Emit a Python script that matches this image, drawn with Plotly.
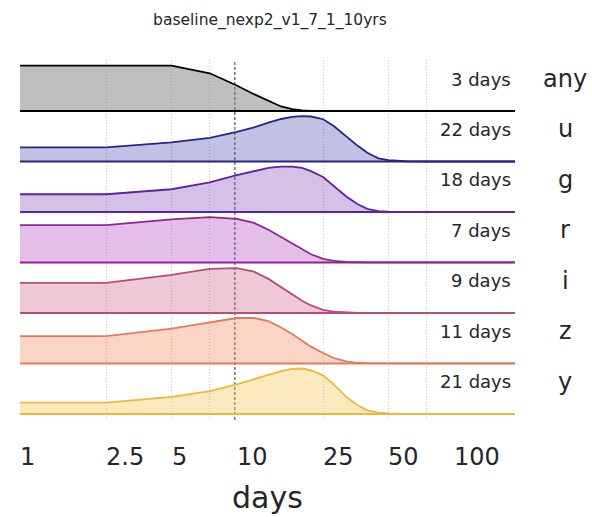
import numpy as np
import plotly.graph_objects as go

# Time between visits (days) at which each normalised distribution is sampled
days = [1, 2.5, 5, 7.5, 10, 12, 14, 16, 18, 20, 22, 25, 28, 32, 36, 40, 45, 50, 60, 75, 100, 192]

bands = ["any", "u", "g", "r", "i", "z", "y"]
medians = ["3 days", "22 days", "18 days", "7 days", "9 days", "11 days", "21 days"]

frac_any = [1.0, 1.0, 1.0, 0.83, 0.56, 0.37, 0.22, 0.10, 0.04, 0.012, 0.004, 0, 0, 0, 0, 0, 0, 0, 0, 0, 0, 0]
frac_u = [0.31, 0.31, 0.42, 0.52, 0.65, 0.75, 0.855, 0.935, 0.98, 1.0, 0.99, 0.93, 0.78, 0.55, 0.35, 0.19, 0.07, 0.03, 0.005, 0, 0, 0]
frac_g = [0.39, 0.39, 0.50, 0.65, 0.81, 0.905, 0.97, 1.0, 1.0, 0.97, 0.90, 0.77, 0.58, 0.34, 0.175, 0.07, 0.02, 0.005, 0, 0, 0, 0]
frac_r = [0.82, 0.82, 0.95, 1.0, 0.96, 0.87, 0.72, 0.565, 0.42, 0.29, 0.18, 0.08, 0.036, 0.01, 0, 0, 0, 0, 0, 0, 0, 0]
frac_i = [0.66, 0.66, 0.84, 0.97, 0.985, 0.91, 0.75, 0.57, 0.41, 0.27, 0.165, 0.07, 0.03, 0.01, 0, 0, 0, 0, 0, 0, 0, 0]
frac_z = [0.60, 0.60, 0.765, 0.91, 1.0, 1.0, 0.93, 0.79, 0.65, 0.50, 0.37, 0.23, 0.12, 0.045, 0.015, 0.005, 0, 0, 0, 0, 0, 0]
frac_y = [0.25, 0.25, 0.375, 0.50, 0.65, 0.765, 0.87, 0.94, 0.99, 1.0, 0.96, 0.85, 0.65, 0.375, 0.19, 0.08, 0.03, 0.01, 0, 0, 0, 0]
fractions = [frac_any, frac_u, frac_g, frac_r, frac_i, frac_z, frac_y]

line_colors = ["#000000", "#282387", "#5f239b", "#912396", "#b94b7d", "#e17d5f", "#ebb93c"]
fill_colors = ["rgba(128,128,128,0.5)", "rgba(78,78,178,0.35)", "rgba(135,75,189,0.35)",
               "rgba(178,69,189,0.35)", "rgba(206,98,138,0.35)", "rgba(241,132,86,0.35)",
               "rgba(249,192,69,0.35)"]

tick_vals = [1, 2.5, 5, 10, 25, 50, 100]
tick_text = ["1", "2.5", "5", "10", "25", "50", "100"]
grid_vals = [2.5, 5, 7.5, 25, 50, 75]
marker_day = 9.8

x_min, x_max = 1, 192
ridge_height = 0.9
text_color = "#262626"
font = "DejaVu Sans"

fig = go.Figure()
n = len(bands)
for k, (band, frac) in enumerate(zip(bands, fractions)):
    offset = n - 1 - k
    fig.add_trace(go.Scatter(
        x=[x_min, x_max], y=[offset, offset], mode="lines",
        line=dict(color=line_colors[k], width=2), hoverinfo="skip", showlegend=False))
    fig.add_trace(go.Scatter(
        x=days, y=[offset + ridge_height * v for v in frac], mode="lines",
        line=dict(color=line_colors[k], width=1.8),
        fill="tonexty", fillcolor=fill_colors[k], name=band, showlegend=False))
    fig.add_annotation(x=1, xref="paper", y=offset, yref="y", yshift=32,
                       xanchor="right", yanchor="middle", xshift=-2,
                       text=medians[k], showarrow=False,
                       font=dict(family=font, size=18, color=text_color))
    fig.add_annotation(x=1, xref="paper", y=offset, yref="y", yshift=32,
                       xanchor="center", yanchor="middle", xshift=50,
                       text=band, showarrow=False,
                       font=dict(family=font, size=24, color=text_color))

# Tick labels sit just right of their tick positions
for v, t in zip(tick_vals, tick_text):
    fig.add_annotation(x=np.log10(v), xref="x", y=0, yref="paper", yshift=-37,
                       xanchor="left", yanchor="middle", xshift=-2, text=t,
                       showarrow=False, font=dict(family=font, size=24, color=text_color))

fig.add_annotation(x=0.5, xref="paper", y=0, yref="paper", yshift=-77,
                   xanchor="center", yanchor="middle", text="days", showarrow=False,
                   font=dict(family=font, size=30, color=text_color))

fig.add_shape(type="line", x0=marker_day, x1=marker_day, xref="x", y0=0, y1=1,
              yref="paper", line=dict(color="#333333", width=1, dash="3px,2px"), layer="below")

fig.update_layout(
    width=592, height=517,
    margin=dict(l=20, r=77, t=60, b=97),
    paper_bgcolor="white", plot_bgcolor="white",
    title=dict(text="baseline_nexp2_v1_7_1_10yrs", x=0.456, xanchor="center",
               y=1 - 20 / 517, yanchor="middle",
               font=dict(family=font, size=15.5, color=text_color)),
    xaxis=dict(type="log", range=[np.log10(x_min), np.log10(x_max)],
               tickvals=grid_vals, showticklabels=False, ticks="",
               showgrid=True, gridcolor="#c4c4c4", gridwidth=1, griddash="1px,2px",
               zeroline=False, showline=False),
    yaxis=dict(range=[-0.12, 7.01], showgrid=False, showticklabels=False,
               zeroline=False, showline=False, ticks=""),
)

fig.write_html("out.html")
